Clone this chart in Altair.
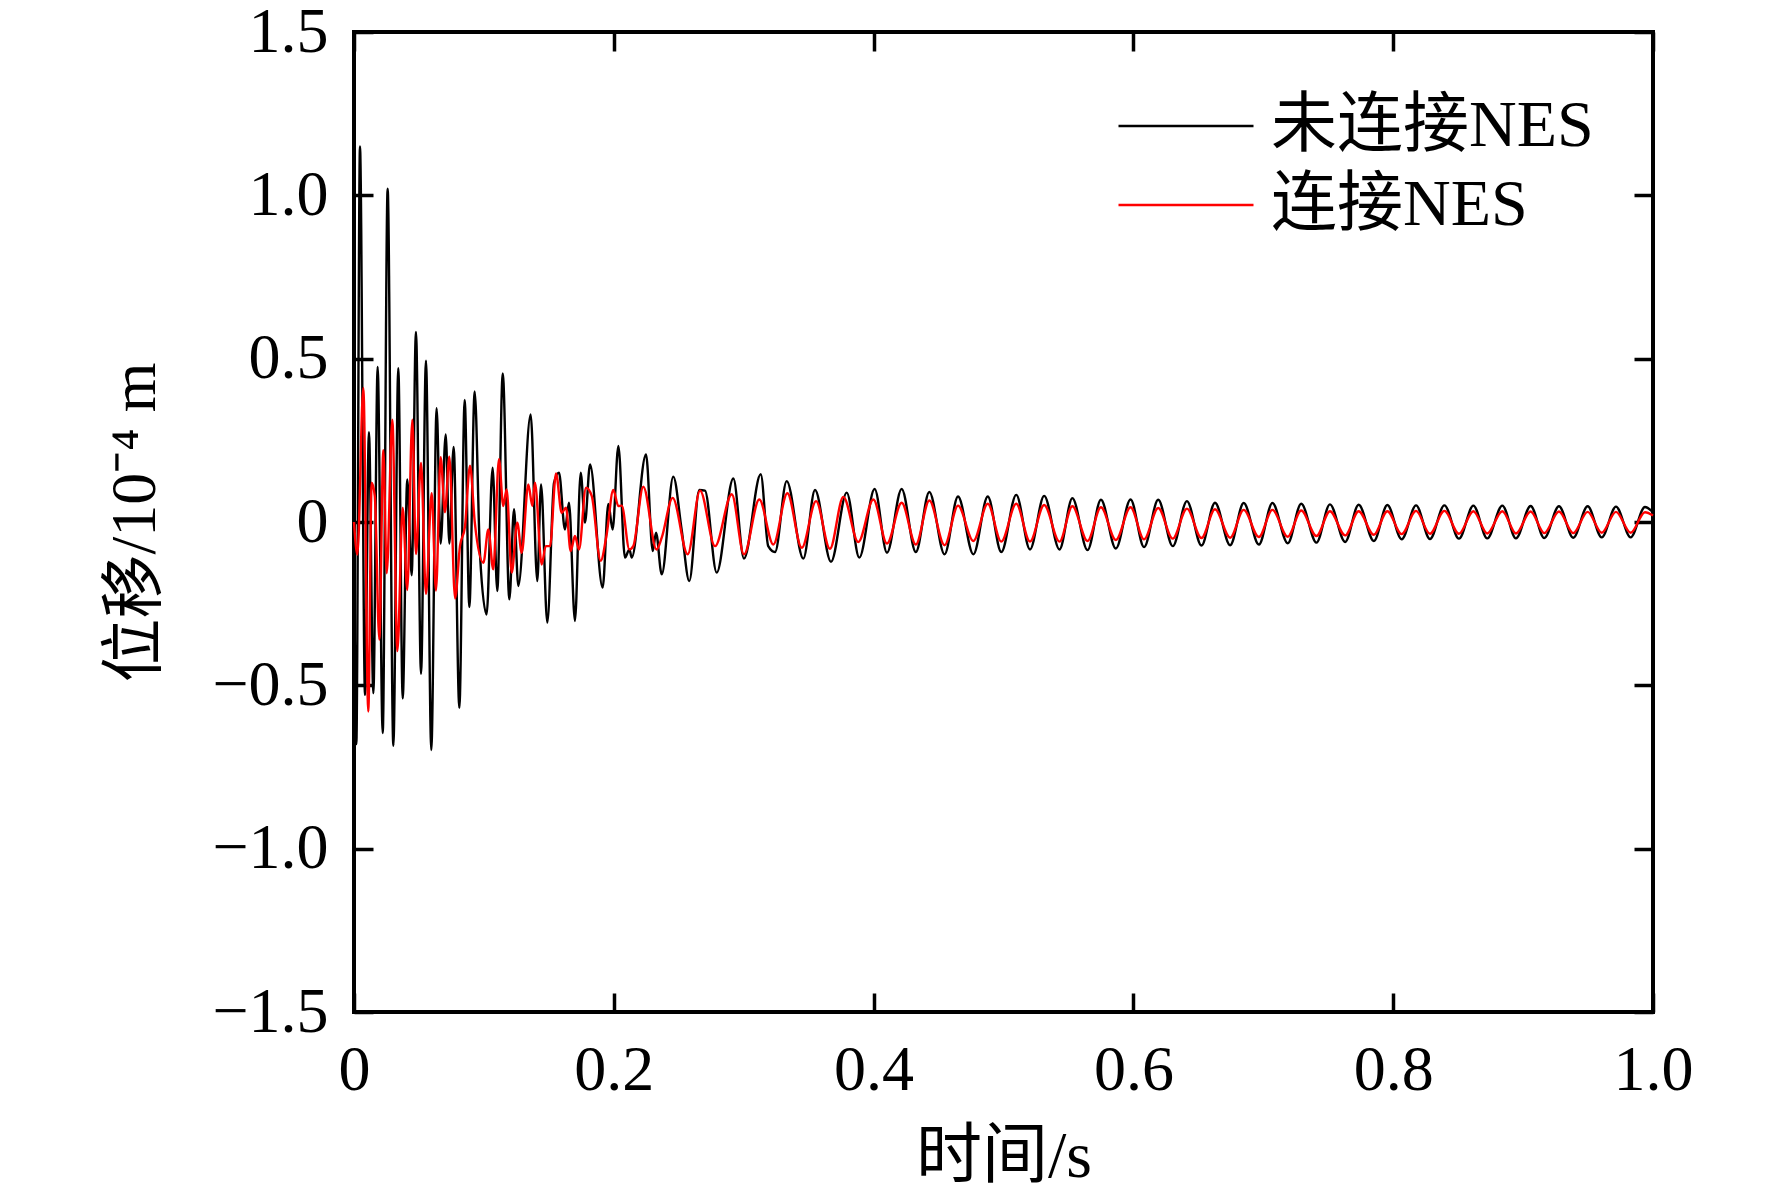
import altair as alt
import pandas as pd

# ---- data (time in s, displacement in 1e-4 m) ----
black_t = [0.0000, 0.0018, 0.0046, 0.0085, 0.0115, 0.0149, 0.0182, 0.0221, 0.0259, 0.0303,
           0.0341, 0.0375, 0.0410, 0.0444, 0.0477, 0.0516, 0.0554, 0.0595, 0.0636, 0.0667,
           0.0706, 0.0734, 0.0767, 0.0811, 0.0852, 0.0888, 0.0929, 0.0970, 0.1021, 0.1067,
           0.1103, 0.1145, 0.1196, 0.1232, 0.1265, 0.1360, 0.1411, 0.1440, 0.1488, 0.1540,
           0.1578, 0.1624, 0.1655, 0.1701, 0.1745, 0.1778, 0.1817, 0.1914, 0.1958, 0.1991,
           0.2035, 0.2086, 0.2120, 0.2138, 0.2248, 0.2300, 0.2325, 0.2369, 0.2458, 0.2522,
           0.2581, 0.2658, 0.2702, 0.2792, 0.2920, 0.3002, 0.3131, 0.3189, 0.3241, 0.3331,
           0.3459, 0.3549, 0.3672, 0.3793, 0.3890, 0.4008, 0.4103, 0.4216, 0.4325, 0.4429,
           0.4546, 0.4650, 0.4768, 0.4879, 0.4983, 0.5098, 0.5204, 0.5313, 0.5431, 0.5530,
           0.5647, 0.5750, 0.5865, 0.5978, 0.6082, 0.6191, 0.6303, 0.6412, 0.6524, 0.6628,
           0.6745, 0.6849, 0.6966, 0.7070, 0.7188, 0.7292, 0.7409, 0.7513, 0.7630, 0.7734,
           0.7851, 0.7955, 0.8065, 0.8176, 0.8283, 0.8394, 0.8506, 0.8617, 0.8724, 0.8840,
           0.8945, 0.9058, 0.9163, 0.9276, 0.9386, 0.9497, 0.9605, 0.9715, 0.9828, 0.9938,
           1.0000]
black_v = [-0.05, -0.68, 1.15, -0.53, 0.275, -0.524, 0.475, -0.646, 1.02, -0.685,
           0.471, -0.54, 0.13, -0.163, 0.582, -0.465, 0.494, -0.698, 0.348, -0.066,
           0.268, -0.066, 0.23, -0.569, 0.374, -0.26, 0.40, -0.099, -0.283, 0.166,
           -0.211, 0.455, -0.237, 0.039, -0.196, 0.329, -0.181, 0.115, -0.308, 0.12,
           0.151, -0.023, 0.059, -0.303, 0.151, -0.002, 0.176, -0.201, 0.055, -0.023,
           0.233, -0.109, -0.084, -0.109, 0.207, -0.089, -0.033, -0.16, 0.139, -0.023,
           -0.181, 0.098, 0.096, -0.155, 0.133, -0.112, 0.146, -0.074, -0.092, 0.125,
           -0.112, 0.098, -0.122, 0.09, -0.109, 0.101, -0.094, 0.101, -0.092, 0.092,
           -0.099, 0.078, -0.099, 0.078, -0.092, 0.083, -0.084, 0.080, -0.084, 0.073,
           -0.086, 0.068, -0.081, 0.069, -0.077, 0.068, -0.074, 0.064, -0.072, 0.059,
           -0.071, 0.058, -0.069, 0.058, -0.065, 0.056, -0.063, 0.054, -0.061, 0.053,
           -0.058, 0.052, -0.053, 0.051, -0.052, 0.051, -0.051, 0.050, -0.050, 0.050,
           -0.050, 0.049, -0.049, 0.048, -0.048, 0.048, -0.047, 0.047, -0.047, 0.046,
           0.030]

red_t = [0.0000, 0.0026, 0.0072, 0.0110, 0.0136, 0.0160, 0.0195, 0.0226, 0.0252, 0.0295,
         0.0334, 0.0375, 0.0410, 0.0449, 0.0477, 0.0516, 0.0554, 0.0598, 0.0631, 0.0667,
         0.0700, 0.0734, 0.0778, 0.0816, 0.0854, 0.0893, 0.0930, 0.0996, 0.1034, 0.1072,
         0.1116, 0.1149, 0.1175, 0.1214, 0.1257, 0.1291, 0.1342, 0.1373, 0.1393, 0.1445,
         0.1476, 0.1509, 0.1555, 0.1599, 0.1632, 0.1668, 0.1701, 0.1732, 0.1786, 0.1830,
         0.1899, 0.1945, 0.1996, 0.2035, 0.2061, 0.2120, 0.2150, 0.2227, 0.2329, 0.2369,
         0.2453, 0.2569, 0.2664, 0.2779, 0.2908, 0.3002, 0.3120, 0.3228, 0.3336, 0.3447,
         0.3557, 0.3664, 0.3767, 0.3882, 0.3998, 0.4103, 0.4216, 0.4325, 0.4429, 0.4546,
         0.4650, 0.4768, 0.4879, 0.4983, 0.5098, 0.5204, 0.5313, 0.5431, 0.5530, 0.5647,
         0.5750, 0.5865, 0.5978, 0.6082, 0.6191, 0.6303, 0.6412, 0.6524, 0.6628, 0.6745,
         0.6849, 0.6966, 0.7070, 0.7188, 0.7292, 0.7409, 0.7513, 0.7630, 0.7734, 0.7851,
         0.7955, 0.8065, 0.8176, 0.8283, 0.8394, 0.8506, 0.8617, 0.8724, 0.8840, 0.8945,
         0.9058, 0.9163, 0.9276, 0.9386, 0.9497, 0.9605, 0.9715, 0.9828, 0.9938, 1.0000]
red_v = [0.0, -0.10, 0.41, -0.58, 0.12, 0.08, -0.36, 0.22, -0.157, 0.313,
         -0.395, 0.044, -0.208, 0.313, -0.098, 0.181, -0.22, 0.088, -0.21, 0.198,
         0.03, 0.20, -0.234, -0.073, -0.015, 0.172, -0.002, -0.125, -0.023, -0.145,
         0.192, 0.049, 0.10, -0.155, -0.002, -0.094, 0.115, 0.049, 0.12, -0.13,
         -0.074, -0.074, 0.149, 0.028, 0.044, -0.089, -0.043, -0.084, 0.105, 0.08,
         -0.119, -0.038, 0.098, 0.049, 0.05, -0.084, -0.074, 0.108, -0.084, -0.048,
         0.074, -0.099, 0.096, -0.074, 0.085, -0.099, 0.069, -0.069, 0.088, -0.079,
         0.064, -0.082, 0.077, -0.061, 0.069, -0.066, 0.059, -0.069, 0.066, -0.071,
         0.050, -0.058, 0.056, -0.060, 0.056, -0.060, 0.052, -0.060, 0.048, -0.058,
         0.045, -0.055, 0.045, -0.053, 0.043, -0.051, 0.041, -0.049, 0.039, -0.048,
         0.037, -0.046, 0.037, -0.045, 0.035, -0.043, 0.033, -0.041, 0.033, -0.039,
         0.033, -0.037, 0.034, -0.036, 0.034, -0.036, 0.033, -0.035, 0.033, -0.035,
         0.032, -0.034, 0.032, -0.034, 0.031, -0.033, 0.031, -0.033, 0.030, 0.020]

series_names = ["未连接NES", "连接NES"]
series_colors = ["#000000", "#ff0000"]
x_ticks = [0, 0.2, 0.4, 0.6, 0.8, 1.0]
y_ticks = [-1.5, -1.0, -0.5, 0, 0.5, 1.0, 1.5]
x_title = "时间/s"
y_title = "位移/10⁻⁴ m"

df = pd.concat([
    pd.DataFrame({"t": black_t, "v": black_v, "series": series_names[0]}),
    pd.DataFrame({"t": red_t, "v": red_v, "series": series_names[1]}),
], ignore_index=True)

W, H = 1299, 980
FONT = "Liberation Serif, Noto Sans CJK SC"
TICK = 19

xs = alt.Scale(domain=[0, 1], nice=False, zero=False)
ys = alt.Scale(domain=[-1.5, 1.5], nice=False, zero=False)

base = alt.Chart(df)

lines = base.mark_line(strokeWidth=2.4, interpolate="monotone").encode(
    x=alt.X("t:Q", scale=xs, axis=alt.Axis(
        orient="bottom", values=x_ticks, ticks=False, domain=False, grid=False,
        labelExpr="datum.value == 0 ? '0' : format(datum.value, '.1f')",
        labelFont=FONT, labelFontSize=64, labelColor="black", labelPadding=26,
        labelFlush=False, labelOverlap=False,
        title=x_title, titleFont=FONT, titleFontSize=66, titleFontWeight="normal",
        titleColor="black", titlePadding=22)),
    y=alt.Y("v:Q", scale=ys, axis=alt.Axis(
        orient="left", values=y_ticks, ticks=False, domain=False, grid=False,
        labelExpr="datum.value == 0 ? '0' : replace(format(datum.value, '.1f'), '-', '−')",
        labelFont=FONT, labelFontSize=64, labelColor="black", labelPadding=26,
        labelFlush=False, labelOverlap=False,
        title=y_title, titleFont=FONT, titleFontSize=64, titleFontWeight="normal",
        titleColor="black", titlePadding=44)),
    color=alt.Color("series:N", sort=series_names,
                    scale=alt.Scale(domain=series_names, range=series_colors),
                    legend=alt.Legend(
                        title=None, orient="none", legendX=799, legendY=61,
                        symbolType="M-6.75,0H6.75", symbolSize=400, symbolStrokeWidth=2.5,
                        labelFont=FONT, labelFontSize=66, labelColor="black",
                        labelOffset=52, rowPadding=13, labelLimit=0, padding=0)),
)

def tick_layer(xo, yo):
    return base.mark_line(opacity=0).encode(
        x=alt.X("t:Q", scale=xs, axis=alt.Axis(
            orient=xo, offset=-H, values=x_ticks, labels=False, domain=False, grid=False,
            ticks=True, tickSize=TICK, tickWidth=3.5, tickColor="black", title=None)),
        y=alt.Y("v:Q", scale=ys, axis=alt.Axis(
            orient=yo, offset=-W, values=y_ticks, labels=False, domain=False, grid=False,
            ticks=True, tickSize=TICK, tickWidth=3.5, tickColor="black", title=None)),
        detail="series:N",
    )

chart = alt.layer(lines, tick_layer("top", "right"), tick_layer("bottom", "left")).resolve_axis(
    x="independent", y="independent"
).properties(
    width=W, height=H,
    background="white",
    autosize=alt.AutoSizeParams(type="none"),
    padding={"left": 346, "top": 24, "right": 100, "bottom": 182},
).configure_view(stroke="black", strokeWidth=4)

chart.save("out.html", embed_options={"renderer": "svg", "actions": False})
